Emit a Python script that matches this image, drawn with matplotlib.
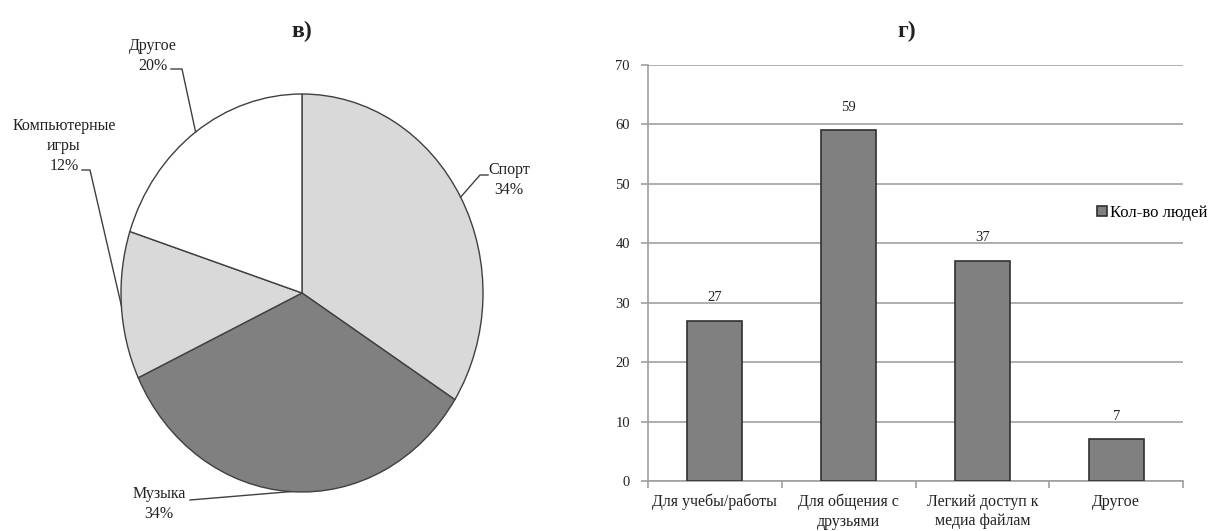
import numpy as np
import matplotlib
matplotlib.use("Agg")
import matplotlib.pyplot as plt

plt.rcParams['font.family'] = ['Liberation Serif', 'DejaVu Serif']

# Pie: interests
pie_labels = ["Спорт", "Музыка", "Компьютерные\nигры", "Другое"]
pie_values = [34, 34, 12, 20]
pie_colors = ["#d9d9d9", "#808080", "#d9d9d9", "#ffffff"]

# Bars: reasons for use
bar_categories = ["Для учебы/работы", "Для общения с\nдрузьями",
                  "Легкий доступ к\nмедиа файлам", "Другое"]
bar_values = [27, 59, 37, 7]
series_name = "Кол-во людей"

W, H = 1208, 531
fig = plt.figure(figsize=(W / 100, H / 100), dpi=100)
fig.patch.set_facecolor("white")


def fx(px):
    return px / W


def fy(py):
    return 1 - py / H


# ---------- pie (slightly tall ellipse) ----------
PIE_L, PIE_R, PIE_T, PIE_B = 121, 483, 94, 492
ax1 = fig.add_axes([fx(PIE_L), fy(PIE_B), fx(PIE_R) - fx(PIE_L), fy(PIE_T) - fy(PIE_B)])
wedges, _ = ax1.pie(pie_values, colors=pie_colors, startangle=90,
                    counterclock=False, radius=1,
                    wedgeprops=dict(edgecolor="#404040", linewidth=1.0))
ax1.set_aspect("auto")
ax1.set_xlim(-1, 1)
ax1.set_ylim(-1, 1)
ax1.axis("off")

cx, cy = (PIE_L + PIE_R) / 2, (PIE_T + PIE_B) / 2
rx, ry = (PIE_R - PIE_L) / 2, (PIE_B - PIE_T) / 2


def to_data(p):
    return ((p[0] - cx) / rx, (cy - p[1]) / ry)


# label block centres and leader start points (pixels)
label_centres = [(509, 180), (159, 504), (64, 146), (153, 56)]
leader_starts = [[(488, 175), (480, 175)],
                 [(190, 500)],
                 [(82, 170), (90, 170)],
                 [(171, 69), (182, 69)]]

total = sum(pie_values)
start = 90.0
for i, (lab, val) in enumerate(zip(pie_labels, pie_values)):
    ang = start - 360.0 * val / total / 2
    start -= 360.0 * val / total
    edge = (np.cos(np.radians(ang)), np.sin(np.radians(ang)))
    tx, ty = to_data(label_centres[i])
    ax1.text(tx, ty, f"{lab}\n{val}%", ha="center", va="center",
             fontsize=11.5, color="#222222", linespacing=1.35, clip_on=False)
    pts = [to_data(p) for p in leader_starts[i]] + [edge]
    xs, ys = zip(*pts)
    ax1.plot(xs, ys, color="#404040", lw=1.0, clip_on=False)

fig.text(fx(302), fy(31), "в)", ha="center", va="center",
         fontsize=17, fontweight="bold", color="#222222")

# ---------- bar chart ----------
ax2 = fig.add_axes([fx(648), fy(481), fx(1183) - fx(648), fy(65) - fy(481)])
x = np.arange(len(bar_categories))
bars = ax2.bar(x, bar_values, width=0.41, color="#808080",
               edgecolor="#303030", linewidth=1.2, zorder=3, label=series_name)
for xi, v in zip(x, bar_values):
    ax2.text(xi, v + 2.8, str(v), ha="center", va="bottom",
             fontsize=10.5, color="#222222")
ax2.set_xlim(-0.5, len(bar_categories) - 0.5)
ax2.set_ylim(0, 70)
ax2.set_yticks(np.arange(0, 71, 10))
ax2.yaxis.grid(True, color="#a8a8a8", linewidth=1.3, zorder=0)
ax2.set_axisbelow(True)
ax2.set_xticks(x)
ax2.set_xticklabels(bar_categories, fontsize=11.5, color="#222222", linespacing=1.3)
ax2.tick_params(axis="x", length=0, pad=9)
ax2.set_xticks(np.arange(-0.5, len(bar_categories)), minor=True)
ax2.tick_params(axis="x", which="minor", length=5, color="#a0a0a0", width=1.2)
ax2.tick_params(axis="y", length=5, color="#a0a0a0", width=1.2,
                labelsize=10.5, labelcolor="#222222", pad=8)
for s in ["top", "right"]:
    ax2.spines[s].set_visible(False)
for s in ["left", "bottom"]:
    ax2.spines[s].set_color("#a0a0a0")
    ax2.spines[s].set_linewidth(1.2)

ax2.legend(loc="center left", bbox_to_anchor=(fx(1097), fy(213)),
           bbox_transform=fig.transFigure, frameon=False, fontsize=12,
           handlelength=0.6, handleheight=0.6, handletextpad=0.15,
           borderaxespad=0, borderpad=0)

fig.text(fx(907), fy(31), "г)", ha="center", va="center",
         fontsize=17, fontweight="bold", color="#222222")

fig.savefig("out.png", dpi=100)
